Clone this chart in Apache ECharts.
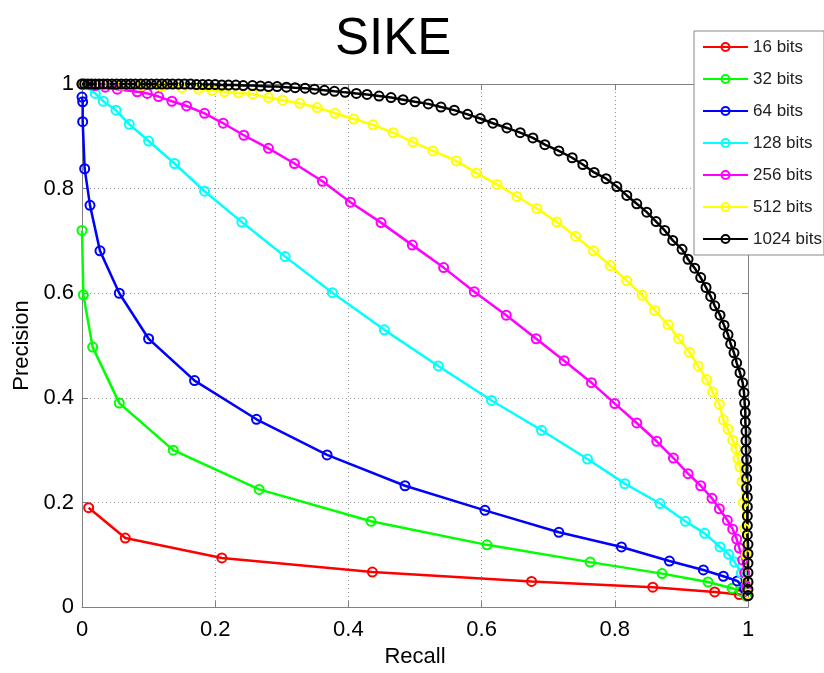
<!DOCTYPE html>
<html>
<head>
<meta charset="utf-8">
<script src="https://cdn.jsdelivr.net/npm/echarts@6/dist/echarts.min.js"></script>
<style>html,body{margin:0;padding:0;background:#fff}#c{width:824px;height:673px}</style>
</head>
<body>
<div id="c"></div>
<script>
const seriesNames = ['16 bits','32 bits','64 bits','128 bits','256 bits','512 bits','1024 bits'];
const seriesColors = ['#ff0000','#00ff00','#0000ff','#00ffff','#ff00ff','#ffff00','#000000'];
const xTickLabels = ['0','0.2','0.4','0.6','0.8','1'];
const yTickLabels = ['0','0.2','0.4','0.6','0.8','1'];

const bits16 = [[0.01,0.19],[0.065,0.132],[0.21,0.094],[0.436,0.067],[0.675,0.049],[0.857,0.038],[0.95,0.029],[0.987,0.024],[0.998,0.021]];
const bits32 = [[0,0.72],[0.002,0.597],[0.016,0.497],[0.056,0.39],[0.137,0.30],[0.266,0.225],[0.434,0.164],[0.608,0.119],[0.763,0.086],[0.871,0.064],[0.94,0.048],[0.976,0.036],[0.99,0.03],[0.998,0.022]];
const bits64 = [[0,0.975],[0.001,0.966],[0.001,0.928],[0.004,0.838],[0.012,0.768],[0.027,0.681],[0.056,0.60],[0.1,0.513],[0.169,0.433],[0.262,0.359],[0.368,0.291],[0.485,0.232],[0.605,0.185],[0.716,0.143],[0.81,0.115],[0.882,0.088],[0.933,0.071],[0.963,0.059],[0.984,0.05],[0.995,0.035],[1.0,0.022]];
const bits128 = [[0,1],[0.02,0.982],[0.032,0.967],[0.051,0.95],[0.071,0.923],[0.1,0.891],[0.139,0.848],[0.184,0.795],[0.24,0.736],[0.305,0.67],[0.376,0.601],[0.454,0.53],[0.535,0.461],[0.615,0.395],[0.69,0.338],[0.759,0.283],[0.815,0.236],[0.868,0.198],[0.906,0.164],[0.935,0.141],[0.958,0.115],[0.971,0.101],[0.98,0.086],[0.99,0.065],[0.997,0.04],[1,0.022]];
const bits256 = [[0,1],[0.02,0.997],[0.035,0.994],[0.053,0.99],[0.083,0.985],[0.098,0.982],[0.115,0.976],[0.135,0.967],[0.157,0.958],[0.184,0.944],[0.212,0.925],[0.243,0.902],[0.28,0.877],[0.319,0.848],[0.361,0.814],[0.403,0.774],[0.449,0.735],[0.496,0.692],[0.543,0.649],[0.589,0.603],[0.637,0.558],[0.682,0.513],[0.724,0.471],[0.765,0.429],[0.8,0.389],[0.833,0.352],[0.863,0.317],[0.888,0.285],[0.91,0.255],[0.929,0.232],[0.946,0.208],[0.957,0.188],[0.969,0.166],[0.977,0.149],[0.983,0.13],[0.987,0.113],[0.992,0.09],[0.995,0.065],[0.998,0.04],[1,0.022]];
const bits512 = [[0,1],[0.03,0.999],[0.06,0.998],[0.09,0.997],[0.12,0.995],[0.15,0.993],[0.175,0.99],[0.195,0.988],[0.214,0.985],[0.235,0.983],[0.256,0.981],[0.28,0.974],[0.301,0.969],[0.327,0.963],[0.353,0.955],[0.38,0.944],[0.408,0.933],[0.437,0.922],[0.467,0.907],[0.497,0.889],[0.527,0.872],[0.562,0.853],[0.592,0.83],[0.623,0.808],[0.653,0.785],[0.683,0.762],[0.713,0.736],[0.741,0.709],[0.768,0.681],[0.793,0.653],[0.818,0.624],[0.841,0.596],[0.86,0.567],[0.88,0.54],[0.896,0.513],[0.912,0.487],[0.925,0.461],[0.938,0.435],[0.947,0.411],[0.957,0.388],[0.963,0.358],[0.97,0.34],[0.977,0.319],[0.982,0.303],[0.985,0.284],[0.988,0.268],[0.991,0.24],[0.993,0.2],[0.995,0.15],[0.997,0.1],[0.999,0.05],[1.0,0.025]];
const bits1024 = [[0,1],[0.004,1],[0.009,1],[0.014,1],[0.02,1],[0.026,1],[0.032,1],[0.038,1],[0.045,1],[0.052,1],[0.059,1],[0.066,1],[0.073,1],[0.08,1],[0.088,1],[0.096,1],[0.104,1],[0.112,1],[0.12,1],[0.128,1],[0.136,1],[0.145,1],[0.154,1],[0.163,1],[0.172,0.999],[0.181,0.999],[0.19,0.999],[0.2,0.999],[0.21,0.998],[0.22,0.998],[0.231,0.998],[0.242,0.997],[0.256,0.997],[0.268,0.996],[0.28,0.995],[0.293,0.995],[0.307,0.994],[0.32,0.993],[0.335,0.992],[0.349,0.99],[0.364,0.988],[0.379,0.986],[0.395,0.984],[0.412,0.982],[0.428,0.98],[0.446,0.977],[0.464,0.974],[0.482,0.97],[0.5,0.966],[0.52,0.962],[0.539,0.956],[0.559,0.95],[0.579,0.942],[0.598,0.934],[0.617,0.925],[0.638,0.916],[0.658,0.907],[0.677,0.897],[0.695,0.884],[0.716,0.872],[0.736,0.859],[0.752,0.846],[0.769,0.831],[0.787,0.819],[0.803,0.804],[0.818,0.787],[0.833,0.771],[0.848,0.755],[0.862,0.737],[0.875,0.72],[0.887,0.701],[0.901,0.684],[0.91,0.665],[0.92,0.648],[0.929,0.63],[0.937,0.611],[0.944,0.594],[0.95,0.576],[0.958,0.558],[0.964,0.539],[0.97,0.521],[0.974,0.503],[0.979,0.486],[0.983,0.467],[0.988,0.448],[0.992,0.429],[0.994,0.41],[0.995,0.39],[0.996,0.372],[0.996,0.354],[0.997,0.336],[0.997,0.318],[0.997,0.3],[0.998,0.282],[0.998,0.264],[0.998,0.246],[0.998,0.228],[0.999,0.21],[0.999,0.192],[0.999,0.174],[0.999,0.156],[0.999,0.138],[1,0.12],[1,0.102],[1,0.084],[1,0.066],[1,0.048],[1,0.034],[1,0.022]];

const allData = [bits16, bits32, bits64, bits128, bits256, bits512, bits1024];
const FONT = "'Liberation Sans', Arial, Helvetica, sans-serif";
const axisGray = '#808080';

const chart = echarts.init(document.getElementById('c'), null, {renderer: 'canvas'});

function baseAxis(extra) {
  return Object.assign({
    type: 'value', min: 0, max: 1, interval: 0.2,
    axisLine: {show: true, onZero: false, lineStyle: {color: axisGray, width: 1}},
    axisTick: {show: true, inside: true, length: 6, lineStyle: {color: axisGray}},
    splitLine: {show: false}
  }, extra);
}

const option = {
  animation: false,
  backgroundColor: '#fff',
  textStyle: {fontFamily: FONT},
  title: {
    text: 'SIKE', left: 330, top: 9,
    textStyle: {fontSize: 51, fontWeight: 'normal', color: '#000', fontFamily: FONT}
  },
  grid: {left: 82, top: 84, width: 666, height: 528, containLabel: false},
  legend: {
    orient: 'vertical', left: 694, top: 31,
    itemWidth: 45, itemHeight: 10, itemGap: 14,
    padding: [7, 2, 7, 8],
    backgroundColor: '#fff', borderColor: '#888', borderWidth: 1, borderRadius: 0,
    textStyle: {fontSize: 17, color: '#222', lineHeight: 18, fontFamily: FONT},
    data: seriesNames
  },
  xAxis: [
    baseAxis({
      position: 'bottom',
      axisLabel: {fontSize: 22, color: '#000', margin: 12, fontFamily: FONT,
        formatter: v => xTickLabels[Math.round(v / 0.2)]},
      splitLine: {show: true, lineStyle: {type: [1, 3], color: '#999', width: 1}},
      name: 'Recall', nameLocation: 'middle', nameGap: 36,
      nameTextStyle: {fontSize: 22, color: '#000', fontFamily: FONT}
    }),
    baseAxis({position: 'top', axisLabel: {show: false}})
  ],
  yAxis: [
    baseAxis({
      position: 'left',
      axisLabel: {fontSize: 22, color: '#000', margin: 8, fontFamily: FONT,
        formatter: v => yTickLabels[Math.round(v / 0.2)]},
      splitLine: {show: true, lineStyle: {type: [1, 3], color: '#999', width: 1}},
      name: 'Precision', nameLocation: 'middle', nameGap: 48,
      nameTextStyle: {fontSize: 22, color: '#000', fontFamily: FONT}
    }),
    baseAxis({position: 'right', axisLabel: {show: false}})
  ],
  series: allData.map((d, i) => ({
    name: seriesNames[i],
    type: 'line',
    xAxisIndex: 0, yAxisIndex: 0,
    data: d,
    clip: false,
    symbol: 'circle',
    symbolSize: 9,
    showAllSymbol: true,
    lineStyle: {color: seriesColors[i], width: 2.5},
    itemStyle: {color: 'rgba(255,255,255,0)', borderColor: seriesColors[i], borderWidth: 2},
    emphasis: {disabled: true}
  }))
};
chart.setOption(option);
</script>
</body>
</html>
